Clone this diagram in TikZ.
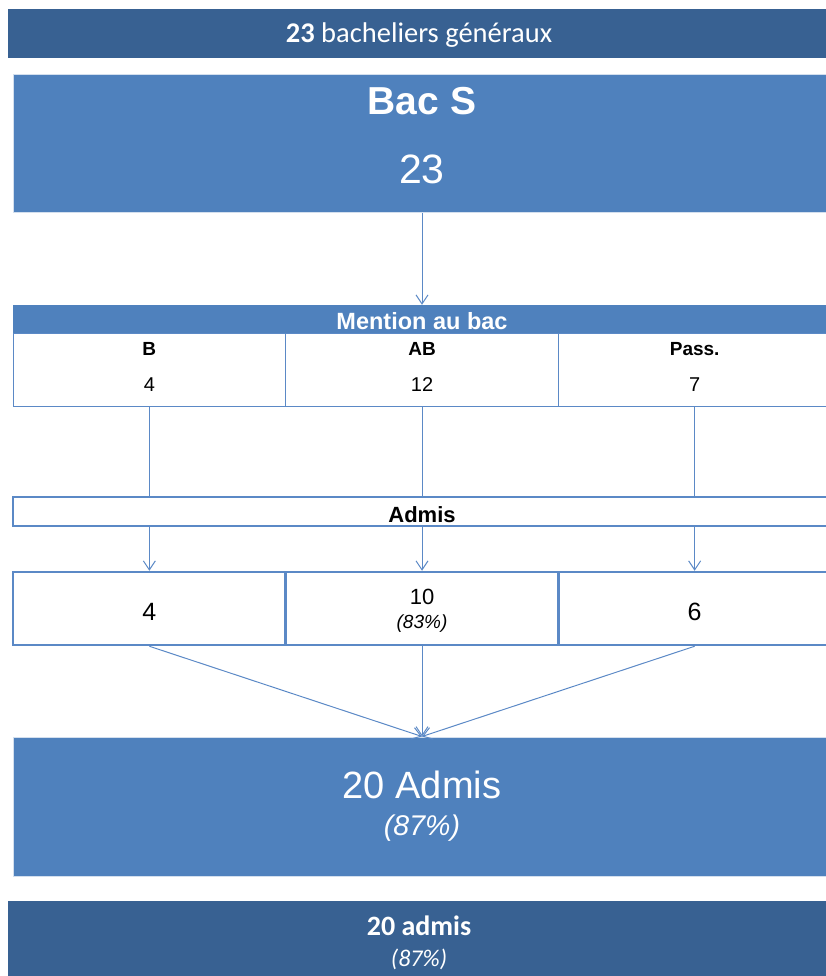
\documentclass[tikz,border=0pt]{standalone}
\usepackage{fontspec}
\setmainfont{Liberation Sans}
\newfontfamily\calibri{Carlito}
\usetikzlibrary{arrows.meta, positioning}
\definecolor{barBlue}{HTML}{386192}
\definecolor{boxBlue}{HTML}{4F81BD}
\definecolor{lineBlue}{HTML}{5B89C6}
\newcommand{\fsz}[1]{\fontsize{#1}{#1}\selectfont}
\tikzstyle{bar}=[rectangle, fill=barBlue, minimum width=822pt, inner sep=0pt]
\tikzstyle{bigbox}=[rectangle, fill=boxBlue, draw=boxBlue!25, line width=1pt, minimum width=818pt, inner sep=0pt]
\tikzstyle{cell}=[rectangle, draw=lineBlue, line width=1pt, minimum width=272.7pt, minimum height=73pt, inner sep=0pt]
\tikzstyle{result}=[cell, line width=2.5pt]
\tikzstyle{label}=[anchor=base, inner sep=0pt]
\tikzstyle{flow}=[draw=lineBlue, line width=1pt]
\tikzstyle{flowArrow}=[flow, -{Straight Barb[length=9pt, width=12pt]}]

\begin{document}
\begin{tikzpicture}[x=1pt, y=-1pt]
    \useasboundingbox (0,0) rectangle (825,976);

    % bandeaux
    \node (top)[bar, minimum height=49pt] at (419, 33.5) {};
    \node (topt)[label, text=white] at (419, 43) {\calibri\fsz{28.5}\textbf{23} bacheliers généraux};

    \node (bacS)[bigbox, minimum height=138pt] at (422, 144) {};
    \node (bacSt)[label, text=white] at (422, 115) {\fsz{39}\bfseries Bac S};
    \node (bacSn)[label, text=white] at (422, 184) {\fsz{41}23};

    % mentions
    \node (mention)[rectangle, fill=boxBlue, minimum width=818pt, minimum height=28pt, inner sep=0pt] at (422, 319) {};
    \node (mentiont)[label, text=white] at (422, 329) {\fsz{23.5}\bfseries Mention au bac};

    \node (cB)[cell] at (149.35, 369.5) {};
    \node (cAB)[cell] at (422, 369.5) {};
    \node (cP)[cell] at (694.65, 369.5) {};
    \node (cBt)[label] at (149.35, 355) {\fsz{19}\bfseries B};
    \node (cABt)[label] at (422, 355) {\fsz{19}\bfseries AB};
    \node (cPt)[label] at (694.65, 355) {\fsz{19}\bfseries Pass.};
    \node (cBn)[label] at (149.35, 391.5) {\fsz{20}4};
    \node (cABn)[label] at (422, 391.5) {\fsz{20}12};
    \node (cPn)[label] at (694.65, 391.5) {\fsz{20}7};

    % admis
    \node (admis)[rectangle, draw=lineBlue, line width=1.5pt, minimum width=818pt, minimum height=29pt, inner sep=0pt] at (422, 511.5) {};
    \node (admist)[label] at (422, 522.5) {\fsz{22}\bfseries Admis};

    \node (rB)[result] at (149.35, 608.5) {};
    \node (rAB)[result] at (422, 608.5) {};
    \node (rP)[result] at (694.65, 608.5) {};
    \node (rBn)[label] at (149.35, 620) {\fsz{25}4};
    \node (rABn)[label] at (422, 604.3) {\fsz{22}10};
    \node (rABp)[label] at (422, 628.8) {\fsz{19}\itshape (83\%)};
    \node (rPn)[label] at (694.65, 620) {\fsz{25}6};

    \node (total)[bigbox, minimum height=139pt] at (422, 806.5) {};
    \node (totalt)[label, text=white] at (422, 798.3) {\fsz{38}20 Admis};
    \node (totalp)[label, text=white] at (422, 835.7) {\fsz{28.5}\itshape (87\%)};

    \node (bottom)[bar, minimum height=80pt] at (419, 941) {};
    \node (bottomt)[label, text=white] at (419, 935) {\calibri\fsz{28}\bfseries 20 admis};
    \node (bottomp)[label, text=white] at (419, 966) {\calibri\fsz{24}\itshape (87\%)};

    % liaisons
    \draw[flowArrow] (bacS.south) -- (mention.north);

    \draw[flow] (cB.south) -- (cB.south |- admis.north);
    \draw[flow] (cAB.south) -- (cAB.south |- admis.north);
    \draw[flow] (cP.south) -- (cP.south |- admis.north);

    \draw[flowArrow] (rB.north |- admis.south) -- (rB.north);
    \draw[flowArrow] (rAB.north |- admis.south) -- (rAB.north);
    \draw[flowArrow] (rP.north |- admis.south) -- (rP.north);

    \draw[flowArrow] (rB.south) -- (total.north);
    \draw[flowArrow] (rAB.south) -- (total.north);
    \draw[flowArrow] (rP.south) -- (total.north);

\end{tikzpicture}
\end{document}
